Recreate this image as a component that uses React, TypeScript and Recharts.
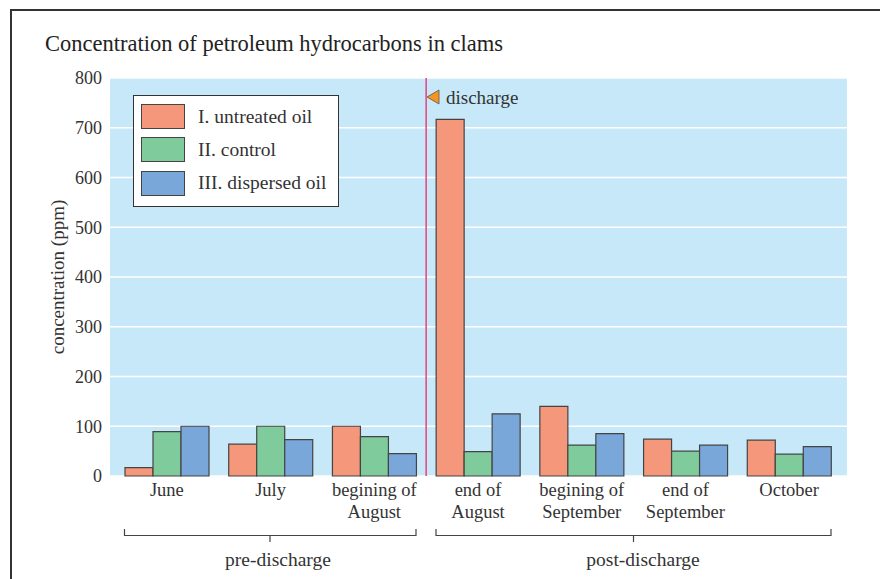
import { BarChart, Bar, XAxis, YAxis, CartesianGrid, ReferenceLine } from "recharts";

const periods = [
  "June",
  "July",
  "begining of\nAugust",
  "end of\nAugust",
  "begining of\nSeptember",
  "end of\nSeptember",
  "October",
];
const untreated = [17, 64, 100, 717, 140, 74, 72];
const control = [89, 100, 79, 49, 62, 50, 44];
const dispersed = [100, 73, 45, 125, 85, 62, 59];
const yTicks = [0, 100, 200, 300, 400, 500, 600, 700, 800];
const seriesNames = ["I. untreated oil", "II. control", "III. dispersed oil"];

const data = periods.map((period, i) => ({
  period,
  untreated: untreated[i],
  control: control[i],
  dispersed: dispersed[i],
}));

const FONT = "'Liberation Serif', 'DejaVu Serif', serif";
const INK = "#333333";
const COLORS = {
  untreated: "#f5977b",
  control: "#80cb9c",
  dispersed: "#7aa7da",
  plotBg: "#c6e8f8",
  barStroke: "#444444",
  discharge: "#e8417d",
  marker: "#f7941d",
};

function PeriodTick({ x, y, payload }: any) {
  const lines = String(payload.value).split("\n");
  return (
    <text x={x} y={y} textAnchor="middle" fill={INK} fontFamily={FONT} fontSize={18.5}>
      {lines.map((l, i) => (
        <tspan key={i} x={x} dy={i === 0 ? 12 : 22}>
          {l}
        </tspan>
      ))}
    </text>
  );
}

function LegendBox() {
  const fills = [COLORS.untreated, COLORS.control, COLORS.dispersed];
  return (
    <div
      style={{
        position: "absolute",
        left: 133,
        top: 95,
        width: 206,
        height: 112,
        boxSizing: "border-box",
        background: "#fff",
        border: "1px solid #333",
        paddingTop: 4,
        paddingLeft: 7,
      }}
    >
      {seriesNames.map((name, i) => (
        <div key={name} style={{ display: "flex", alignItems: "center", height: 33.3 }}>
          <div
            style={{
              width: 42,
              height: 23,
              background: fills[i],
              border: "1px solid #444",
              marginRight: 13,
              flexShrink: 0,
            }}
          />
          <span style={{ fontFamily: FONT, fontSize: 19.5, color: INK, whiteSpace: "nowrap" }}>{name}</span>
        </div>
      ))}
    </div>
  );
}

export default function App() {
  return (
    <div style={{ position: "absolute", left: 0, top: 0, width: 880, height: 579, background: "#fff" }}>
      <BarChart
        width={880}
        height={579}
        data={data}
        margin={{ top: 78, right: 33, bottom: 0, left: 50 }}
        barCategoryGap={10}
        barGap={0}
      >
        <CartesianGrid fill={COLORS.plotBg} stroke="#ffffff" strokeWidth={1.5} vertical={false} />
        <XAxis
          dataKey="period"
          height={103}
          interval={0}
          tickLine={false}
          axisLine={false}
          tick={<PeriodTick />}
          padding={{ left: 5, right: 6 }}
        />
        <YAxis
          width={60}
          domain={[0, 800]}
          ticks={yTicks}
          tickLine={false}
          axisLine={false}
          tick={{ fill: INK, fontSize: 18, fontFamily: FONT }}
        />
        <Bar dataKey="untreated" fill={COLORS.untreated} stroke={COLORS.barStroke} strokeWidth={1.2} isAnimationActive={false} />
        <Bar dataKey="control" fill={COLORS.control} stroke={COLORS.barStroke} strokeWidth={1.2} isAnimationActive={false} />
        <Bar dataKey="dispersed" fill={COLORS.dispersed} stroke={COLORS.barStroke} strokeWidth={1.2} isAnimationActive={false} />
        <ReferenceLine x={periods[3]} position="start" stroke={COLORS.discharge} strokeWidth={1.5} />
      </BarChart>

      <LegendBox />

      {/* annotations: frame, title, axis label, discharge marker, brackets */}
      <svg
        width={880}
        height={579}
        style={{ position: "absolute", left: 0, top: 0, pointerEvents: "none" }}
      >
        <polyline points="11,579 11,10 880,10" fill="none" stroke="#333" strokeWidth={2} />
        <text x={45} y={51} fontFamily={FONT} fontSize={22.5} fill="#222">
          Concentration of petroleum hydrocarbons in clams
        </text>
        <text
          x={64}
          y={277}
          transform="rotate(-90 64 277)"
          textAnchor="middle"
          fontFamily={FONT}
          fontSize={19}
          fill={INK}
        >
          concentration (ppm)
        </text>
        <polygon points="427,97 439,90 439,104" fill={COLORS.marker} stroke="#555" strokeWidth={0.8} />
        <text x={446} y={104} fontFamily={FONT} fontSize={19} fill={INK}>
          discharge
        </text>
        <g fill="none" stroke="#444" strokeWidth={1.2}>
          <polyline points="124.5,529 124.5,535.5 416,535.5 416,529" />
          <line x1={270} y1={535.5} x2={270} y2={542} />
          <polyline points="436,529 436,535.5 831,535.5 831,529" />
          <line x1={633.5} y1={535.5} x2={633.5} y2={542} />
        </g>
        <text x={278} y={566} textAnchor="middle" fontFamily={FONT} fontSize={19.5} fill={INK}>
          pre-discharge
        </text>
        <text x={643} y={566} textAnchor="middle" fontFamily={FONT} fontSize={19.5} fill={INK}>
          post-discharge
        </text>
      </svg>
    </div>
  );
}
